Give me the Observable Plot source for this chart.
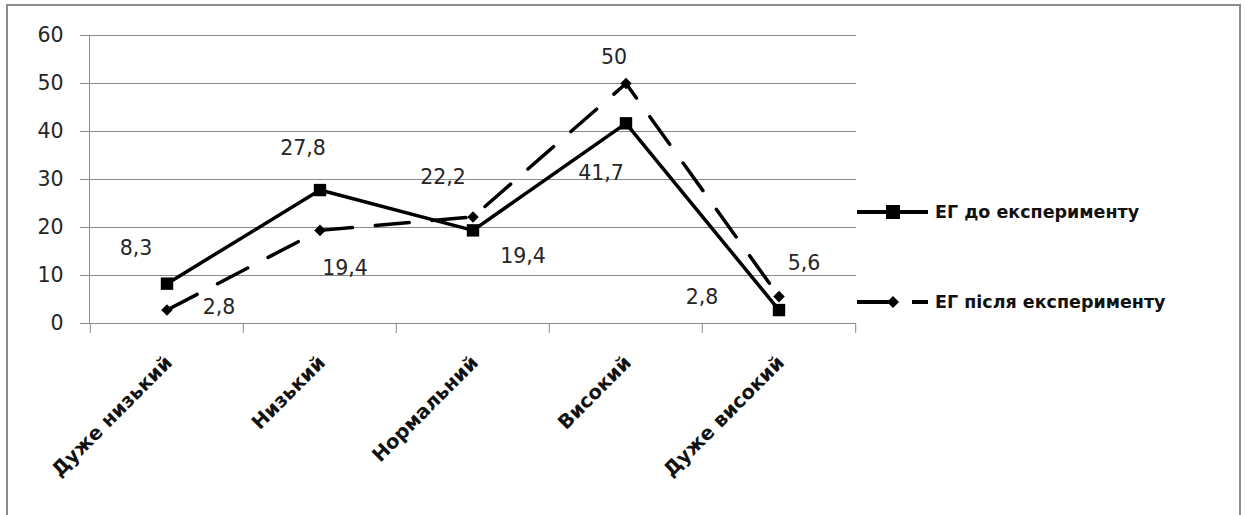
<!DOCTYPE html>
<html><head><meta charset="utf-8">
<script src="https://cdn.jsdelivr.net/npm/d3@7"></script>
<script src="https://cdn.jsdelivr.net/npm/@observablehq/plot@0.6"></script>
<style>
body{margin:0;background:#fff}
#chart svg{font-family:"DejaVu Sans",sans-serif}
</style>
</head><body><div id="chart"></div>
<script>
// ---- data ----
const categories = ["Дуже низький", "Низький", "Нормальний", "Високий", "Дуже високий"];
const seriesNames = ["ЕГ до експерименту", "ЕГ після експерименту"];
const beforeValues = [8.3, 27.8, 19.4, 41.7, 2.8];
const afterValues = [2.8, 19.4, 22.2, 50, 5.6];
const yTicks = [0, 10, 20, 30, 40, 50, 60];

// ---- label placement (pixel offsets, style only) ----
const beforeLabelOffsets = [[-31, -35], [-17, -42], [50, 26], [-25, 50], [-77, -13]];
const afterLabelOffsets = [[52, -3], [25, 38], [-30, -40], [-12, -26], [25, -33]];

const W = 1245, H = 515, ML = 89, MR = 389, MT = 35, MB = 192;
const bw = (W - ML - MR) / categories.length;
const grey = "#8a8a8a";
const textColor = "#262626";
const fmt = v => String(v).replace(".", ",");

const beforeRows = categories.map((c, i) => ({cat: c, value: beforeValues[i], off: beforeLabelOffsets[i]}));
const afterRows = categories.map((c, i) => ({cat: c, value: afterValues[i], off: afterLabelOffsets[i]}));

const labelMarks = [...beforeRows, ...afterRows].map(d =>
  Plot.text([d], {x: "cat", y: "value", text: d => fmt(d.value), dx: d.off[0], dy: d.off[1],
    fill: textColor, fontSize: 20.5})
);

const chart = Plot.plot({
  width: W, height: H,
  marginLeft: ML, marginRight: MR, marginTop: MT, marginBottom: MB,
  style: {background: "white", fontFamily: "DejaVu Sans", fontSize: "20px", overflow: "visible"},
  x: {type: "band", domain: categories, padding: 0},
  y: {domain: [0, 60]},
  marks: [
    Plot.gridY(yTicks, {stroke: grey, strokeOpacity: 1}),
    Plot.frame({anchor: "left", stroke: grey}),
    Plot.axisY(yTicks, {tickSize: 9, tickPadding: 17, stroke: grey, fill: textColor, label: null, fontSize: 20.5}),
    Plot.axisX({tickSize: 10, tickFormat: () => "", dx: -bw / 2, stroke: grey, label: null}),
    Plot.axisX([categories[categories.length - 1]], {tickSize: 10, tickFormat: () => "", dx: bw / 2, stroke: grey, label: null}),
    Plot.axisX({tickSize: 0, tickRotate: -45, tickPadding: 36, fontWeight: "bold", fontSize: 19.5, fill: "#111", label: null, dx: 2}),
    Plot.line(beforeRows, {x: "cat", y: "value", stroke: "black", strokeWidth: 3.5}),
    Plot.dot(beforeRows, {x: "cat", y: "value", symbol: "square", r: 7, fill: "black", stroke: "none"}),
    Plot.line(afterRows, {x: "cat", y: "value", stroke: "black", strokeWidth: 3.5, strokeDasharray: "34,23", strokeLinecap: "round"}),
    Plot.dot(afterRows, {x: "cat", y: "value", symbol: "diamond2", r: 5.2, fill: "black", stroke: "none"}),
    ...labelMarks
  ]
});

document.getElementById("chart").appendChild(chart);

// ---- legend and chart border ----
const svg = d3.select(chart);
svg.append("rect").attr("x", 7).attr("y", 5).attr("width", 1233).attr("height", 530)
  .attr("fill", "none").attr("stroke", "#8c8c8c").attr("stroke-width", 2);
const lg = svg.append("g").attr("text-anchor", "start");
const items = [{name: seriesNames[0], y: 212, type: "square"}, {name: seriesNames[1], y: 302, type: "diamond"}];
items.forEach(it => {
  if (it.type === "square") {
    lg.append("line").attr("x1", 857).attr("x2", 928).attr("y1", it.y).attr("y2", it.y)
      .attr("stroke", "black").attr("stroke-width", 4);
    lg.append("rect").attr("x", 886).attr("y", it.y - 7).attr("width", 14).attr("height", 14).attr("fill", "black");
  } else {
    lg.append("line").attr("x1", 857).attr("x2", 893).attr("y1", it.y).attr("y2", it.y)
      .attr("stroke", "black").attr("stroke-width", 4);
    lg.append("line").attr("x1", 912).attr("x2", 928).attr("y1", it.y).attr("y2", it.y)
      .attr("stroke", "black").attr("stroke-width", 4);
    lg.append("path").attr("d", `M893,${it.y - 6}L899,${it.y}L893,${it.y + 6}L887,${it.y}Z`).attr("fill", "black");
  }
  lg.append("text").attr("x", 935).attr("y", it.y).attr("dy", "0.35em").attr("text-anchor", "start")
    .attr("font-family", "DejaVu Sans").attr("font-weight", "bold").attr("font-size", 17.5)
    .attr("fill", "#111").text(it.name);
});
</script>
</body></html>
